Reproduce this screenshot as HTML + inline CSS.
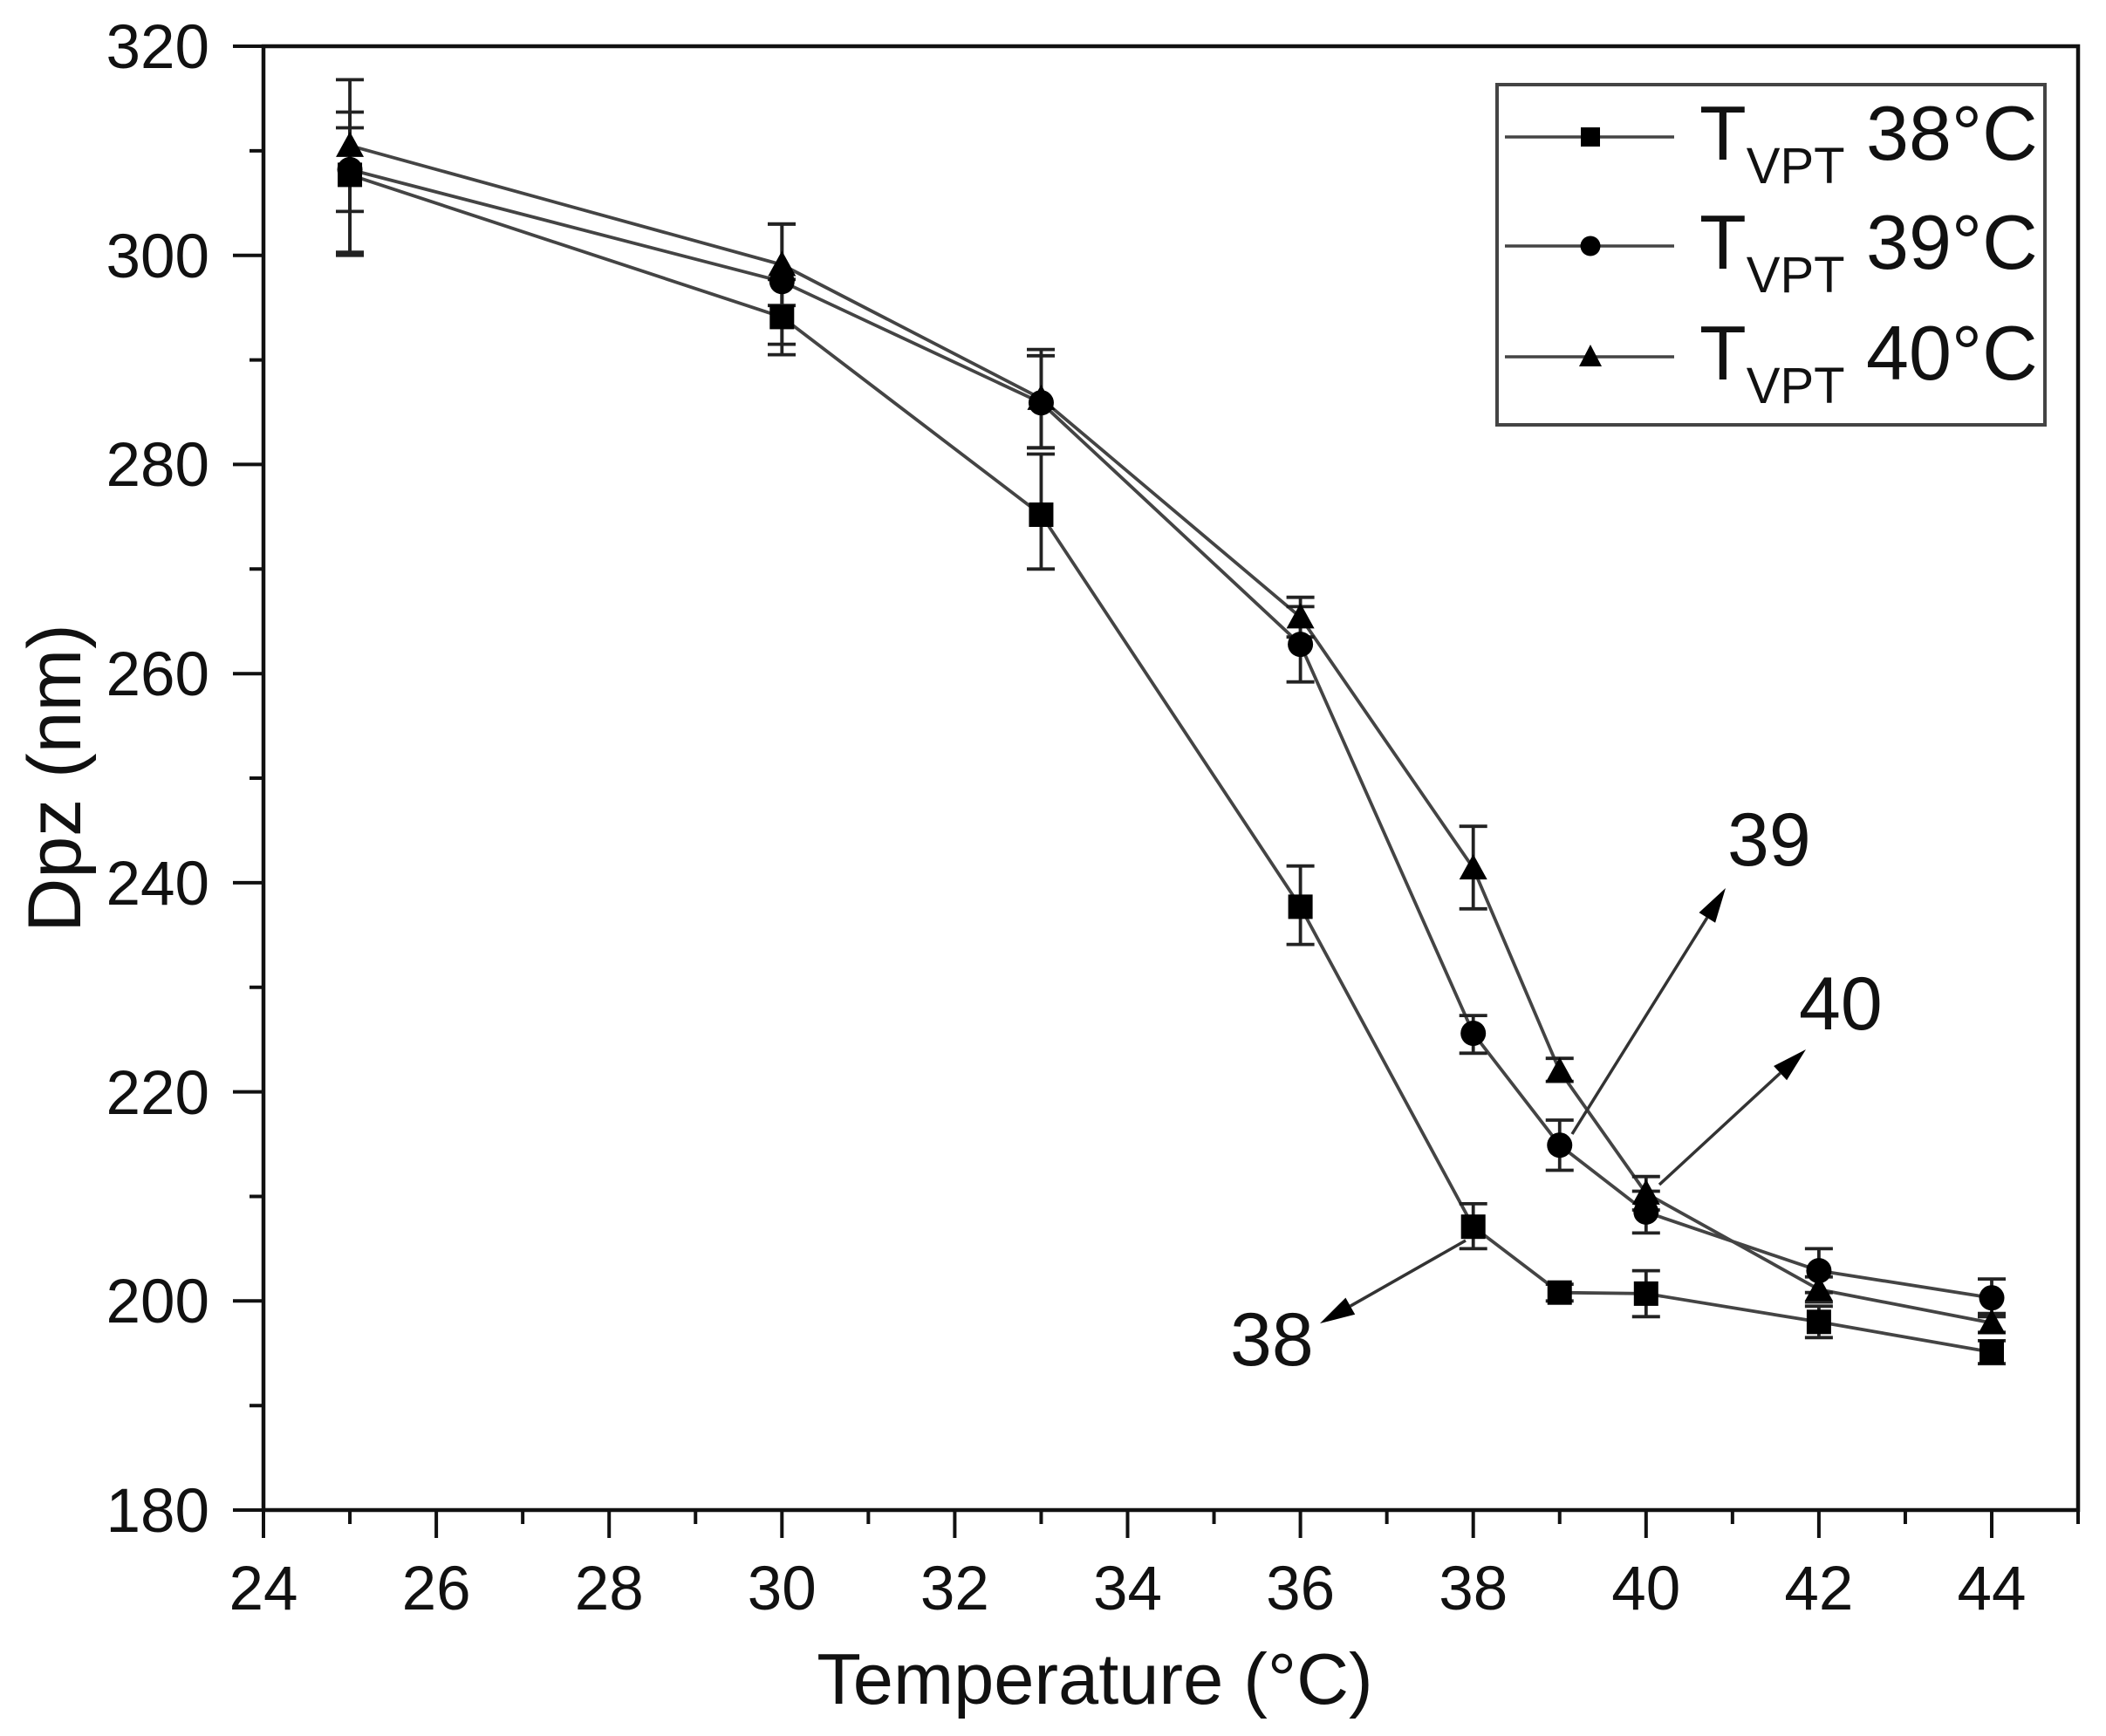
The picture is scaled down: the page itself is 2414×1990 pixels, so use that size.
<!DOCTYPE html>
<html><head><meta charset="utf-8"><style>
html,body{margin:0;padding:0;background:#fff;}
svg{display:block;}
text{font-family:"Liberation Sans",Arial,sans-serif;fill:#111;}
</style></head><body>
<svg width="2414" height="1990" viewBox="0 0 2414 1990" xmlns="http://www.w3.org/2000/svg">
<rect width="2414" height="1990" fill="#fff"/>

<!-- series lines -->
<g fill="none" stroke="#444" stroke-width="3.8" stroke-linejoin="round">
<polyline points="401.05,200.4 896.3,363.4 1193.45,590.0 1490.6,1039.4 1688.7,1406.2 1787.75,1481.7 1886.8,1482.9 2084.9,1515.3 2283,1550.0"/>
<polyline points="401.05,194.4 896.3,322.7 1193.45,461.7 1490.6,738.6 1688.7,1184.5 1787.75,1312.7 1886.8,1389.4 2084.9,1456.6 2283,1487.7"/>
<polyline points="401.05,166.9 896.3,303.5 1193.45,456.9 1490.6,707.4 1688.7,995.1 1787.75,1227.6 1886.8,1367.9 2084.9,1478.1 2283,1516.5"/>
</g>

<!-- error bars -->
<g fill="none" stroke="#222" stroke-width="3.8">
<path d="M401.05,146.5V292.7M385,146.5h32M385,292.7h32"/>
<path d="M896.3,320.3V406.6M880,320.3h32M880,406.6h32"/>
<path d="M1193.45,520.5V652.3M1177,520.5h32M1177,652.3h32"/>
<path d="M1490.6,992.7V1082.6M1474.6,992.7h32M1474.6,1082.6h32"/>
<path d="M1688.7,1379.9V1431.4M1672.7,1379.9h32M1672.7,1431.4h32"/>
<path d="M1787.75,1472.1V1491.3M1771.75,1472.1h32M1771.75,1491.3h32"/>
<path d="M1886.8,1456.6V1509.3M1870.8,1456.6h32M1870.8,1509.3h32"/>
<path d="M2084.9,1497.3V1533.3M2068.9,1497.3h32M2068.9,1533.3h32"/>
<path d="M2283,1536.9V1563.2M2267,1536.9h32M2267,1563.2h32"/>
<path d="M401.05,128.5V289.1M385,128.5h32M385,289.1h32"/>
<path d="M896.3,256.8V394.6M880,256.8h32M880,394.6h32"/>
<path d="M1193.45,407.8V513.3M1177,407.8h32M1177,513.3h32"/>
<path d="M1490.6,695.4V781.7M1474.6,695.4h32M1474.6,781.7h32"/>
<path d="M1688.7,1164.1V1207.3M1672.7,1164.1h32M1672.7,1207.3h32"/>
<path d="M1787.75,1284.0V1341.5M1771.75,1284.0h32M1771.75,1341.5h32"/>
<path d="M1886.8,1365.5V1413.4M1870.8,1365.5h32M1870.8,1413.4h32"/>
<path d="M2084.9,1431.4V1481.7M2068.9,1431.4h32M2068.9,1481.7h32"/>
<path d="M2283,1466.1V1509.3M2267,1466.1h32M2267,1509.3h32"/>
<path d="M401.05,91.4V242.4M385,91.4h32M385,242.4h32"/>
<path d="M896.3,256.8V350.2M880,256.8h32M880,350.2h32"/>
<path d="M1193.45,400.6V513.3M1177,400.6h32M1177,513.3h32"/>
<path d="M1490.6,684.7V730.2M1474.6,684.7h32M1474.6,730.2h32"/>
<path d="M1688.7,947.2V1041.8M1672.7,947.2h32M1672.7,1041.8h32"/>
<path d="M1787.75,1213.2V1239.6M1771.75,1213.2h32M1771.75,1239.6h32"/>
<path d="M1886.8,1348.7V1387.0M1870.8,1348.7h32M1870.8,1387.0h32"/>
<path d="M2084.9,1463.7V1492.5M2068.9,1463.7h32M2068.9,1492.5h32"/>
<path d="M2283,1505.7V1527.3M2267,1505.7h32M2267,1527.3h32"/>
</g>

<!-- markers -->
<g fill="#000">
<rect x="387.05" y="186.4" width="28" height="28"/>
<rect x="882.3" y="349.4" width="28" height="28"/>
<rect x="1179.45" y="576.0" width="28" height="28"/>
<rect x="1476.6" y="1025.4" width="28" height="28"/>
<rect x="1674.7" y="1392.2" width="28" height="28"/>
<rect x="1773.75" y="1467.7" width="28" height="28"/>
<rect x="1872.8" y="1468.9" width="28" height="28"/>
<rect x="2070.9" y="1501.3" width="28" height="28"/>
<rect x="2269" y="1536.0" width="28" height="28"/>
<circle cx="401.05" cy="194.4" r="14.5"/>
<circle cx="896.3" cy="322.7" r="14.5"/>
<circle cx="1193.45" cy="461.7" r="14.5"/>
<circle cx="1490.6" cy="738.6" r="14.5"/>
<circle cx="1688.7" cy="1184.5" r="14.5"/>
<circle cx="1787.75" cy="1312.7" r="14.5"/>
<circle cx="1886.8" cy="1389.4" r="14.5"/>
<circle cx="2084.9" cy="1456.6" r="14.5"/>
<circle cx="2283" cy="1487.7" r="14.5"/>
<polygon points="401.05,150.9 385.05,179.9 417.05,179.9"/>
<polygon points="896.3,287.5 880.3,316.5 912.3,316.5"/>
<polygon points="1193.45,440.9 1177.45,469.9 1209.45,469.9"/>
<polygon points="1490.6,691.4 1474.6,720.4 1506.6,720.4"/>
<polygon points="1688.7,979.1 1672.7,1008.1 1704.7,1008.1"/>
<polygon points="1787.75,1211.6 1771.75,1240.6 1803.75,1240.6"/>
<polygon points="1886.8,1351.9 1870.8,1380.9 1902.8,1380.9"/>
<polygon points="2084.9,1462.1 2068.9,1491.1 2100.9,1491.1"/>
<polygon points="2283,1500.5 2267,1529.5 2299,1529.5"/>
</g>

<!-- annotation arrows -->
<g stroke="#333" stroke-width="3.5" fill="none">
<line x1="1802" y1="1300" x2="1956.8" y2="1051.9"/>
<line x1="1902" y1="1358" x2="2040.6" y2="1230.1"/>
<line x1="1680" y1="1422" x2="1547.8" y2="1497.2"/>
</g>
<g fill="#000">
<polygon points="1978,1018 1966.1,1057.7 1947.5,1046.1"/>
<polygon points="2070,1203 2048.1,1238.2 2033.1,1222.0"/>
<polygon points="1513,1517 1542.4,1487.6 1553.2,1506.8"/>
</g>
<text x="1980" y="992" font-size="86">39</text>
<text x="2062" y="1180" font-size="86">40</text>
<text x="1410" y="1565" font-size="86">38</text>

<!-- axes frame -->
<g stroke="#111" stroke-width="4.5" fill="none">
<rect x="302" y="53" width="2080" height="1678"/>
</g>
<g stroke="#111" stroke-width="4">
<path d="M267,53H302M267,292.7H302M267,532.4H302M267,772.2H302M267,1011.9H302M267,1251.6H302M267,1491.3H302M267,1731H302"/>
<path d="M286,172.9H302M286,412.6H302M286,652.3H302M286,892.0H302M286,1131.8H302M286,1371.5H302M286,1611.2H302"/>
</g>
<g stroke="#111" stroke-width="4">
<path d="M302,1731V1763M500.1,1731V1763M698.2,1731V1763M896.3,1731V1763M1094.4,1731V1763M1292.5,1731V1763M1490.6,1731V1763M1688.7,1731V1763M1886.8,1731V1763M2084.9,1731V1763M2283,1731V1763"/>
<path d="M401.05,1731V1747M599.15,1731V1747M797.25,1731V1747M995.35,1731V1747M1193.45,1731V1747M1391.55,1731V1747M1589.65,1731V1747M1787.75,1731V1747M1985.85,1731V1747M2183.95,1731V1747M2382,1731V1747"/>
</g>

<!-- y tick labels -->
<g font-size="71" text-anchor="end">
<text x="240" y="78">320</text>
<text x="240" y="318">300</text>
<text x="240" y="557">280</text>
<text x="240" y="797">260</text>
<text x="240" y="1037">240</text>
<text x="240" y="1277">220</text>
<text x="240" y="1516">200</text>
<text x="240" y="1756">180</text>
</g>
<!-- x tick labels -->
<g font-size="71" text-anchor="middle">
<text x="302" y="1845">24</text>
<text x="500.1" y="1845">26</text>
<text x="698.2" y="1845">28</text>
<text x="896.3" y="1845">30</text>
<text x="1094.4" y="1845">32</text>
<text x="1292.5" y="1845">34</text>
<text x="1490.6" y="1845">36</text>
<text x="1688.7" y="1845">38</text>
<text x="1886.8" y="1845">40</text>
<text x="2084.9" y="1845">42</text>
<text x="2283" y="1845">44</text>
</g>

<!-- axis titles -->
<text x="1255" y="1953" font-size="83" text-anchor="middle">Temperature (°C)</text>
<text transform="translate(92,892) rotate(-90)" font-size="86" text-anchor="middle">Dpz (nm)</text>

<!-- legend -->
<rect x="1716" y="97" width="628" height="390" fill="#fff" stroke="#444" stroke-width="4"/>
<g stroke="#444" stroke-width="3.5">
<line x1="1725" y1="157" x2="1919" y2="157"/>
<line x1="1725" y1="282" x2="1919" y2="282"/>
<line x1="1725" y1="409" x2="1919" y2="409"/>
</g>
<g fill="#000">
<rect x="1812" y="146" width="22" height="22"/>
<circle cx="1823" cy="282" r="11.5"/>
<polygon points="1823,395 1810,420 1836,420"/>
</g>
<g font-size="88">
<text x="1948" y="183">T<tspan dy="27" font-size="58">VPT</tspan><tspan dy="-27"> 38°C</tspan></text>
<text x="1948" y="308">T<tspan dy="27" font-size="58">VPT</tspan><tspan dy="-27"> 39°C</tspan></text>
<text x="1948" y="435">T<tspan dy="27" font-size="58">VPT</tspan><tspan dy="-27"> 40°C</tspan></text>
</g>
</svg>
</body></html>
